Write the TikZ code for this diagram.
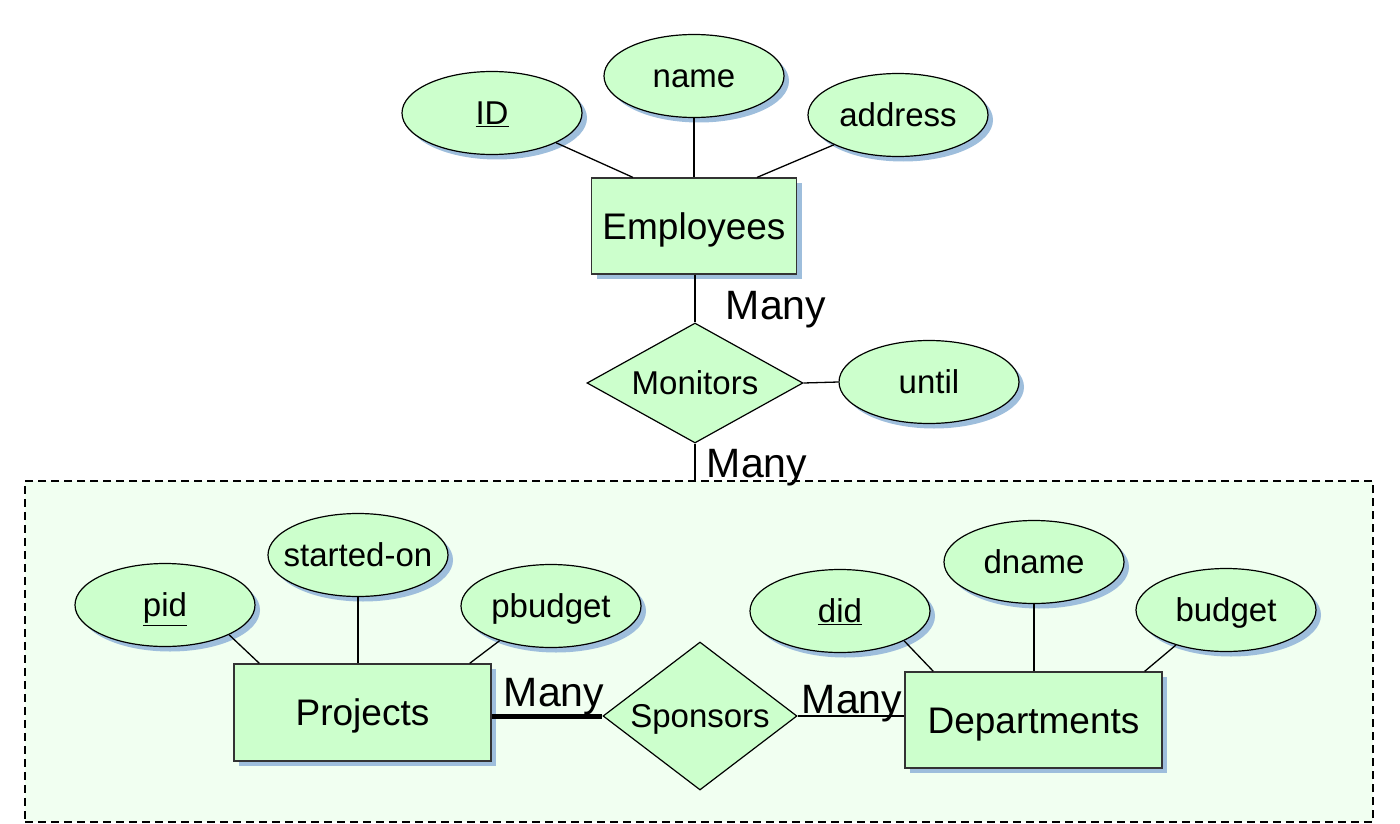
\documentclass[tikz,border=0pt]{standalone}
\usepackage{fontspec}
\setmainfont{Liberation Sans}
\usetikzlibrary{shapes.geometric,shadows}
\definecolor{erfill}{RGB}{204,255,204}
\definecolor{aggfill}{RGB}{241,255,241}
\definecolor{shadowblue}{RGB}{158,190,220}
\tikzset{
  ershadow/.style={drop shadow={shadow xshift=5pt,shadow yshift=-5pt,fill=shadowblue,opacity=1}},
  entity/.style={draw=black!80,line width=1.3pt,fill=erfill,ershadow,inner sep=0pt,
    minimum width=205pt,minimum height=96pt,text height=26.5pt,text depth=0pt,
    font=\fontsize{37}{44}\selectfont},
  attrib/.style={ellipse,draw,line width=1.2pt,fill=erfill,ershadow,inner sep=0pt,
    minimum width=180pt,minimum height=83pt,text height=23.6pt,text depth=0pt,
    font=\fontsize{33}{40}\selectfont},
  relship/.style={diamond,draw,line width=1.2pt,fill=erfill,inner sep=0pt,shape aspect=1.8,
    text height=23.6pt,text depth=0pt,font=\fontsize{33}{40}\selectfont},
  card/.style={inner sep=0pt,text height=29.4pt,text depth=0pt,font=\fontsize{41}{48}\selectfont},
  link/.style={line width=1.3pt},
  aggbox/.style={draw,line width=1.5pt,dash pattern=on 8pt off 5pt,fill=aggfill,inner sep=0pt},
}

\begin{document}
\begin{tikzpicture}[x=1pt,y=-1pt]
\useasboundingbox (0,0) rectangle (1400,824);
% aggregation box
\node[aggbox,minimum width=1348pt,minimum height=341pt] (agg) at (699,651.5) {};
% Employees and Monitors
\node[entity] (emp) at (694,226) {Employees};
\node[attrib] (id) at (492,113) {\underline{ID}};
\node[attrib] (name) at (694,76) {name};
\node[attrib] (addr) at (898,115) {address};
\node[relship,minimum width=216pt,minimum height=120pt] (mon) at (695,383) {Monitors};
\node[attrib] (until) at (929,382) {until};
\draw[link] (id.south east) -- ([xshift=42pt]emp.north west);
\draw[link] (name.south) -- (name.south |- emp.north);
\draw[link] (addr.south west) -- ([xshift=-40pt]emp.north east);
\draw[link] (emp.south -| mon.north) -- (mon.north);
\draw[link] (mon.east) -- (until.west);
\draw[link] (mon.south) -- (mon.south |- agg.north);
\node[card] (manyemp) at (776,305) {Many};
\node[card] (manyagg) at (757,463) {Many};
% Projects, Sponsors, Departments
\node[entity,minimum width=257pt,minimum height=97pt] (proj) at (362.5,712.5) {Projects};
\node[attrib] (pid) at (165,605) {\underline{pid}};
\node[attrib] (started) at (358,555) {\makebox[0pt]{started-on}};
\node[attrib] (pbudget) at (551,606) {pbudget};
\node[relship,minimum width=194pt,minimum height=148pt] (spons) at (700,716) {Sponsors};
\node[entity,minimum width=257pt,minimum height=96pt] (dept) at (1033.5,720) {Departments};
\node[attrib] (did) at (840,611) {\underline{did}};
\node[attrib] (dname) at (1034,562) {dname};
\node[attrib] (budget) at (1226,610) {budget};
\draw[link] (pid.south east) -- ([xshift=26pt]proj.north west);
\draw[link] (started.south) -- (started.south |- proj.north);
\draw[link] (pbudget.214) -- ([xshift=-22pt]proj.north east);
\draw[line width=5pt] (proj.east |- spons.west) -- (spons.west);
\draw[link] (spons.east) -- (spons.east -| dept.west);
\draw[link] (did.south east) -- ([xshift=29pt]dept.north west);
\draw[link] (dname.south) -- (dname.south |- dept.north);
\draw[link] (budget.215) -- ([xshift=-18pt]dept.north east);
\node[card] (manyproj) at (554,692) {Many};
\node[card] (manydept) at (852,699) {Many};
\end{tikzpicture}
\end{document}
